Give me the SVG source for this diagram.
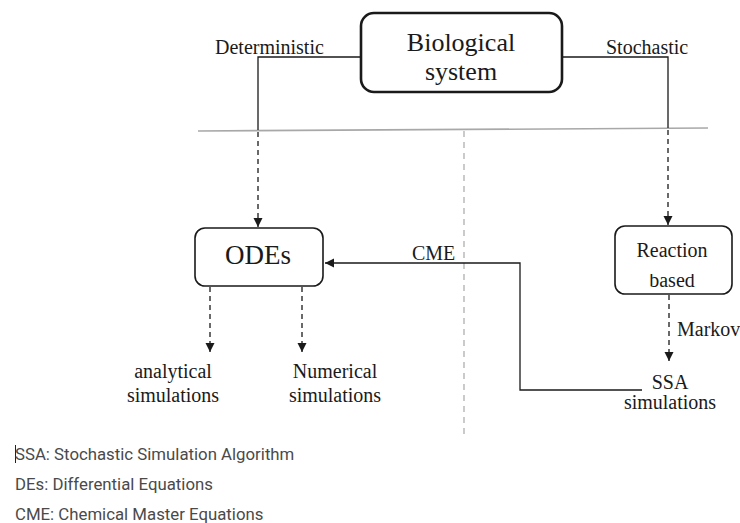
<svg xmlns="http://www.w3.org/2000/svg" width="740" height="523" viewBox="0 0 740 523">
  <style>
    .box { fill: #ffffff; stroke: #1a1a1a; }
    .serif { font-family: "Liberation Serif", "Times New Roman", serif; font-size: 20px; fill: #1a1a1a; }
    .title { font-size: 26px; }
    .big { font-size: 27px; }
    .legend { font-family: Roboto, "Noto Sans", sans-serif; font-size: 16.8px; fill: #4a4a4a; }
    .solid { fill: none; stroke: #1a1a1a; stroke-width: 1.3; }
    .dash { fill: none; stroke: #1a1a1a; stroke-width: 1.3; stroke-dasharray: 5 4; }
    .guide { fill: none; stroke: #a8a8a8; stroke-width: 1.6; }
    .guide-dash { fill: none; stroke: #a8a8a8; stroke-width: 1.2; stroke-dasharray: 6 5; }
  </style>
  <defs>
    <marker id="arrow" markerWidth="10" markerHeight="10" refX="9" refY="5" orient="auto" markerUnits="userSpaceOnUse">
      <path d="M0,0.5 L9,5 L0,9.5 Z" fill="#1a1a1a"/>
    </marker>
    <clipPath id="based-clip">
      <rect x="615" y="274" width="117" height="20"/>
    </clipPath>
  </defs>

  <rect width="740" height="523" fill="#ffffff"/>

  <!-- separator lines -->
  <g id="guides">
    <line class="guide" x1="198" y1="131" x2="708" y2="128"/>
    <line class="guide-dash" x1="464" y1="131" x2="464" y2="438"/>
  </g>

  <!-- connectors -->
  <g id="connectors">
    <polyline class="solid" points="361,57 258,57 258,130"/>
    <line class="dash" x1="258" y1="132" x2="258" y2="227" marker-end="url(#arrow)"/>
    <polyline class="solid" points="562,57 668,57 668,128"/>
    <line class="dash" x1="668" y1="130" x2="668" y2="225" marker-end="url(#arrow)"/>
    <line class="dash" x1="210" y1="287" x2="210" y2="352" marker-end="url(#arrow)"/>
    <line class="dash" x1="302" y1="287" x2="302" y2="352" marker-end="url(#arrow)"/>
    <line class="dash" x1="669" y1="295" x2="669" y2="361" marker-end="url(#arrow)"/>
    <polyline class="solid" points="642,390 520,390 520,263 325,263" marker-end="url(#arrow)"/>
    <text class="serif" x="215" y="54">Deterministic</text>
    <text class="serif" x="606" y="54">Stochastic</text>
    <text class="serif" x="412" y="260">CME</text>
    <text class="serif" x="677" y="336">Markov</text>
  </g>

  <g id="biological-system">
    <rect class="box" x="361" y="13" width="201" height="79" rx="13" stroke-width="2.6"/>
    <text class="serif title" x="461" y="51" text-anchor="middle">Biological</text>
    <text class="serif title" x="461" y="80" text-anchor="middle">system</text>
  </g>

  <g id="odes">
    <rect class="box" x="195" y="228" width="128" height="58" rx="10" stroke-width="1.6"/>
    <text class="serif big" x="258" y="264" text-anchor="middle">ODEs</text>
  </g>

  <g id="reaction-based">
    <rect class="box" x="615" y="226" width="117" height="68" rx="10" stroke-width="1.6"/>
    <text class="serif" x="672" y="257" text-anchor="middle">Reaction</text>
    <text class="serif" x="672" y="287" text-anchor="middle" clip-path="url(#based-clip)">based</text>
  </g>

  <g id="analytical-simulations">
    <text class="serif" x="173" y="378" text-anchor="middle">analytical</text>
    <text class="serif" x="173" y="402" text-anchor="middle">simulations</text>
  </g>

  <g id="numerical-simulations">
    <text class="serif" x="335" y="378" text-anchor="middle">Numerical</text>
    <text class="serif" x="335" y="402" text-anchor="middle">simulations</text>
  </g>

  <g id="ssa-simulations">
    <text class="serif" x="670" y="389" text-anchor="middle">SSA</text>
    <text class="serif" x="670" y="409" text-anchor="middle">simulations</text>
  </g>

  <g id="legend">
    <line x1="15.5" y1="445" x2="15.5" y2="463" stroke="#222" stroke-width="1"/>
    <text class="legend" x="15" y="460">SSA: Stochastic Simulation Algorithm</text>
    <text class="legend" x="15" y="490">DEs: Differential Equations</text>
    <text class="legend" x="15" y="520">CME: Chemical Master Equations</text>
  </g>
</svg>
